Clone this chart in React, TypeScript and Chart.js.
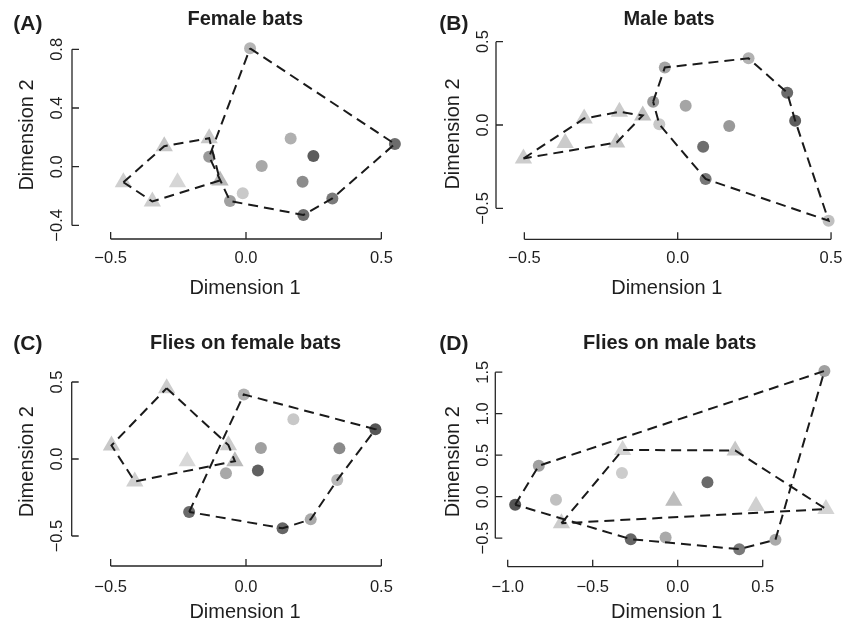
import React, { useEffect, useRef } from 'react';
import { Chart, registerables } from 'chart.js';

Chart.register(...registerables);

const FONT = '"Liberation Sans", Arial, Helvetica, sans-serif';

// ---------- Panel A: Female bats ----------
const femaleTriX = [-0.453, -0.346, -0.302, -0.253, -0.136, -0.096];
const femaleTriY = [-0.106, -0.237, 0.14, -0.106, 0.194, -0.094];
const femaleTriShade = ['#cfcfcf', '#cdcdcd', '#c6c6c6', '#d6d6d6', '#c8c8c8', '#b9b9b9'];
const femaleTriHull = [0, 2, 4, 5, 1, 0];
const femaleCircX = [0.015, 0.55, 0.165, 0.249, 0.058, -0.136, 0.209, 0.319, 0.212, -0.012, -0.059];
const femaleCircY = [0.807, 0.155, 0.193, 0.073, 0.005, 0.068, -0.102, -0.216, -0.329, -0.181, -0.234];
const femaleCircShade = ['#b5b5b5', '#6c6c6c', '#b0b0b0', '#5c5c5c', '#a8a8a8', '#999999', '#8c8c8c', '#7a7a7a', '#6e6e6e', '#c9c9c9', '#a0a0a0'];
const femaleCircHull = [0, 1, 7, 8, 10, 5, 0];
const femaleXTicks = [-0.5, 0, 0.5];
const femaleXTickLabels = ['\u22120.5', '0.0', '0.5'];
const femaleYTicks = [-0.4, 0, 0.4, 0.8];
const femaleYTickLabels = ['\u22120.4', '0.0', '0.4', '0.8'];

// ---------- Panel B: Male bats ----------
const maleTriX = [-0.503, -0.367, -0.305, -0.19, -0.199, -0.114];
const maleTriY = [-0.201, -0.108, 0.039, 0.079, -0.105, 0.057];
const maleTriShade = ['#cdcdcd', '#cbcbcb', '#cdcdcd', '#cbcbcb', '#c6c6c6', '#c0c0c0'];
const maleTriHull = [0, 2, 3, 5, 4, 0];
const maleCircX = [-0.042, 0.231, 0.357, 0.383, 0.492, 0.091, 0.083, 0.168, 0.026, -0.08, -0.06];
const maleCircY = [0.345, 0.4, 0.194, 0.026, -0.574, -0.324, -0.13, -0.006, 0.116, 0.14, 0.004];
const maleCircShade = ['#a5a5a5', '#b2b2b2', '#6a6a6a', '#5e5e5e', '#c0c0c0', '#777777', '#6e6e6e', '#999999', '#a5a5a5', '#9a9a9a', '#c8c8c8'];
const maleCircHull = [9, 0, 1, 2, 3, 4, 5, 10, 9];
const maleXTicks = [-0.5, 0, 0.5];
const maleXTickLabels = ['\u22120.5', '0.0', '0.5'];
const maleYTicks = [-0.5, 0, 0.5];
const maleYTickLabels = ['\u22120.5', '0.0', '0.5'];

// ---------- Panel C: Flies on female bats ----------
const fliesFemaleTriX = [-0.497, -0.411, -0.293, -0.217, -0.065, -0.041];
const fliesFemaleTriY = [0.088, -0.146, 0.46, -0.014, 0.09, -0.014];
const fliesFemaleTriShade = ['#c8c8c8', '#d0d0d0', '#cccccc', '#d8d8d8', '#cccccc', '#bbbbbb'];
const fliesFemaleTriHull = [2, 4, 5, 1, 0, 2];
const fliesFemaleCircX = [-0.008, 0.478, 0.337, 0.239, 0.135, -0.21, 0.175, 0.345, 0.055, 0.044, -0.074];
const fliesFemaleCircY = [0.419, 0.193, -0.137, -0.392, -0.45, -0.344, 0.258, 0.069, 0.071, -0.074, -0.093];
const fliesFemaleCircShade = ['#b0b0b0', '#555555', '#b8b8b8', '#aaaaaa', '#666666', '#6a6a6a', '#c8c8c8', '#8a8a8a', '#a0a0a0', '#606060', '#a8a8a8'];
const fliesFemaleCircHull = [5, 0, 1, 2, 3, 4, 5];
const fliesFemaleXTicks = [-0.5, 0, 0.5];
const fliesFemaleXTickLabels = ['\u22120.5', '0.0', '0.5'];
const fliesFemaleYTicks = [-0.5, 0, 0.5];
const fliesFemaleYTickLabels = ['\u22120.5', '0.0', '0.5'];

// ---------- Panel D: Flies on male bats ----------
const fliesMaleTriX = [-0.684, -0.324, 0.338, 0.872, 0.461, -0.023];
const fliesMaleTriY = [-0.32, 0.563, 0.557, -0.149, -0.111, -0.049];
const fliesMaleTriShade = ['#cccccc', '#d4d4d4', '#c8c8c8', '#d4d4d4', '#d0d0d0', '#bdbdbd'];
const fliesMaleTriHull = [0, 1, 2, 3, 0];
const fliesMaleCircX = [-0.956, -0.817, -0.716, -0.328, -0.276, -0.071, 0.175, 0.362, 0.575, 0.863];
const fliesMaleCircY = [-0.096, 0.373, -0.036, 0.285, -0.512, -0.492, 0.173, -0.632, -0.518, 1.514];
const fliesMaleCircShade = ['#555555', '#a0a0a0', '#c0c0c0', '#cccccc', '#666666', '#aaaaaa', '#6a6a6a', '#7a7a7a', '#aaaaaa', '#a0a0a0'];
const fliesMaleCircHull = [0, 1, 9, 8, 7, 4, 0];
const fliesMaleXTicks = [-1, -0.5, 0, 0.5];
const fliesMaleXTickLabels = ['\u22121.0', '\u22120.5', '0.0', '0.5'];
const fliesMaleYTicks = [-0.5, 0, 0.5, 1, 1.5];
const fliesMaleYTickLabels = ['\u22120.5', '0.0', '0.5', '1.0', '1.5'];

const PANELS = [
  {
    key: 'A', tag: '(A)', title: 'Female bats',
    triX: femaleTriX, triY: femaleTriY, triShade: femaleTriShade, triHull: femaleTriHull,
    circX: femaleCircX, circY: femaleCircY, circShade: femaleCircShade, circHull: femaleCircHull,
    xTicks: femaleXTicks, xTickLabels: femaleXTickLabels, yTicks: femaleYTicks, yTickLabels: femaleYTickLabels,
    box: { left: 0, top: 0, w: 426, h: 310 },
    cal: { xZero: 246, xUnit: 270.7, yZero: 166.7, yUnit: 146.7 },
    area: { left: 72, right: 410, top: 40, bottom: 239 },
    text: { tagY: 30, titleX: 245.3, titleY: 25, xlabX: 245, xlabY: 294, ylabY: 135, xTickY: 263.3 },
  },
  {
    key: 'B', tag: '(B)', title: 'Male bats',
    triX: maleTriX, triY: maleTriY, triShade: maleTriShade, triHull: maleTriHull,
    circX: maleCircX, circY: maleCircY, circShade: maleCircShade, circHull: maleCircHull,
    xTicks: maleXTicks, xTickLabels: maleXTickLabels, yTicks: maleYTicks, yTickLabels: maleYTickLabels,
    box: { left: 426, top: 0, w: 427, h: 310 },
    cal: { xZero: 251.7, xUnit: 306.7, yZero: 125, yUnit: 166.7 },
    area: { left: 70, right: 415, top: 35, bottom: 239.3 },
    text: { tagY: 30, titleX: 243, titleY: 25, xlabX: 240.8, xlabY: 294, ylabY: 134, xTickY: 263.3 },
  },
  {
    key: 'C', tag: '(C)', title: 'Flies on female bats',
    triX: fliesFemaleTriX, triY: fliesFemaleTriY, triShade: fliesFemaleTriShade, triHull: fliesFemaleTriHull,
    circX: fliesFemaleCircX, circY: fliesFemaleCircY, circShade: fliesFemaleCircShade, circHull: fliesFemaleCircHull,
    xTicks: fliesFemaleXTicks, xTickLabels: fliesFemaleXTickLabels, yTicks: fliesFemaleYTicks, yTickLabels: fliesFemaleYTickLabels,
    box: { left: 0, top: 310, w: 426, h: 313 },
    cal: { xZero: 246, xUnit: 270.7, yZero: 149, yUnit: 154 },
    area: { left: 71.7, right: 410, top: 60, bottom: 256 },
    text: { tagY: 40, titleX: 245.5, titleY: 39.3, xlabX: 245, xlabY: 308.3, ylabY: 151.7, xTickY: 281.7 },
  },
  {
    key: 'D', tag: '(D)', title: 'Flies on male bats',
    triX: fliesMaleTriX, triY: fliesMaleTriY, triShade: fliesMaleTriShade, triHull: fliesMaleTriHull,
    circX: fliesMaleCircX, circY: fliesMaleCircY, circShade: fliesMaleCircShade, circHull: fliesMaleCircHull,
    xTicks: fliesMaleXTicks, xTickLabels: fliesMaleXTickLabels, yTicks: fliesMaleYTicks, yTickLabels: fliesMaleYTickLabels,
    box: { left: 426, top: 310, w: 427, h: 313 },
    cal: { xZero: 251.7, xUnit: 170, yZero: 186.7, yUnit: 83 },
    area: { left: 69.3, right: 415, top: 50, bottom: 256.7 },
    text: { tagY: 40, titleX: 243.8, titleY: 39.3, xlabX: 240.7, xlabY: 308.3, ylabY: 151.7, xTickY: 281.7 },
  },
];

const TEXT_COLOR = '#1e1e1e';
const AXIS_COLOR = '#262626';
const HULL_COLOR = '#1a1a1a';
const TICK_LEN = 7;

function Panel({ p }: { p: any }) {
  const ref = useRef<HTMLCanvasElement | null>(null);
  useEffect(() => {
    const canvas = ref.current;
    if (!canvas) return;
    const { box, cal, area, text } = p;
    const xMin = (area.left - cal.xZero) / cal.xUnit;
    const xMax = (area.right - cal.xZero) / cal.xUnit;
    const yMin = (cal.yZero - area.bottom) / cal.yUnit;
    const yMax = (cal.yZero - area.top) / cal.yUnit;

    const triPts = p.triX.map((x: number, i: number) => ({ x, y: p.triY[i] }));
    const circPts = p.circX.map((x: number, i: number) => ({ x, y: p.circY[i] }));
    const triHullPts = p.triHull.map((i: number) => ({ x: p.triX[i], y: p.triY[i] }));
    const circHullPts = p.circHull.map((i: number) => ({ x: p.circX[i], y: p.circY[i] }));

    const hullStyle = {
      showLine: true,
      borderColor: HULL_COLOR,
      borderWidth: 2,
      borderDash: [10, 6],
      pointRadius: 0,
      pointHoverRadius: 0,
      fill: false,
      tension: 0,
      clip: false as any,
    };

    const rAxes = {
      id: 'rAxes',
      afterDraw(chart: any) {
        const { ctx, chartArea: ca, scales } = chart;
        const xs = scales.x;
        const ys = scales.y;
        ctx.save();
        ctx.setLineDash([]);
        ctx.strokeStyle = AXIS_COLOR;
        ctx.lineWidth = 1.3;
        // x axis
        const xb = ca.bottom;
        const xa = xs.getPixelForValue(p.xTicks[0]);
        const xz = xs.getPixelForValue(p.xTicks[p.xTicks.length - 1]);
        ctx.beginPath();
        ctx.moveTo(xa, xb);
        ctx.lineTo(xz, xb);
        p.xTicks.forEach((v: number) => {
          const px = xs.getPixelForValue(v);
          ctx.moveTo(px, xb);
          ctx.lineTo(px, xb - TICK_LEN);
        });
        // y axis
        const yl = ca.left;
        const ya = ys.getPixelForValue(p.yTicks[0]);
        const yz = ys.getPixelForValue(p.yTicks[p.yTicks.length - 1]);
        ctx.moveTo(yl, ya);
        ctx.lineTo(yl, yz);
        p.yTicks.forEach((v: number) => {
          const py = ys.getPixelForValue(v);
          ctx.moveTo(yl, py);
          ctx.lineTo(yl + TICK_LEN, py);
        });
        ctx.stroke();

        ctx.fillStyle = TEXT_COLOR;
        // x tick labels
        ctx.font = `16.5px ${FONT}`;
        ctx.textAlign = 'center';
        ctx.textBaseline = 'alphabetic';
        p.xTicks.forEach((v: number, i: number) => {
          ctx.fillText(p.xTickLabels[i], xs.getPixelForValue(v), text.xTickY);
        });
        // y tick labels (rotated)
        p.yTicks.forEach((v: number, i: number) => {
          ctx.save();
          ctx.translate(61.7, ys.getPixelForValue(v));
          ctx.rotate(-Math.PI / 2);
          ctx.fillText(p.yTickLabels[i], 0, 0);
          ctx.restore();
        });
        // axis titles
        ctx.font = `20px ${FONT}`;
        ctx.fillText('Dimension 1', text.xlabX, text.xlabY);
        ctx.save();
        ctx.translate(33, text.ylabY);
        ctx.rotate(-Math.PI / 2);
        ctx.fillText('Dimension 2', 0, 0);
        ctx.restore();
        // main title
        ctx.font = `bold 20px ${FONT}`;
        ctx.fillText(p.title, text.titleX, text.titleY);
        // panel tag
        ctx.font = `bold 21px ${FONT}`;
        ctx.textAlign = 'left';
        ctx.fillText(p.tag, 13.3, text.tagY);
        ctx.restore();
      },
    };

    const chart = new Chart(canvas, {
      type: 'scatter',
      data: {
        datasets: [
          { label: 'tri hull', data: triHullPts, ...hullStyle },
          { label: 'circ hull', data: circHullPts, ...hullStyle },
          {
            label: 'triangles',
            data: triPts,
            pointStyle: 'triangle',
            pointRadius: 10,
            pointHoverRadius: 10,
            pointBorderWidth: 0,
            pointBackgroundColor: p.triShade,
            backgroundColor: p.triShade,
            borderWidth: 0,
            clip: false as any,
          },
          {
            label: 'circles',
            data: circPts,
            pointStyle: 'circle',
            pointRadius: 6,
            pointHoverRadius: 6,
            pointBorderWidth: 0,
            pointBackgroundColor: p.circShade,
            backgroundColor: p.circShade,
            borderWidth: 0,
            clip: false as any,
          },
        ],
      },
      options: {
        animation: false,
        responsive: false,
        events: [],
        layout: {
          padding: {
            left: area.left,
            top: area.top,
            right: box.w - area.right,
            bottom: box.h - area.bottom,
          },
        },
        plugins: {
          legend: { display: false },
          tooltip: { enabled: false },
          title: { display: false },
        },
        scales: {
          x: { type: 'linear', display: false, min: xMin, max: xMax },
          y: { type: 'linear', display: false, min: yMin, max: yMax },
        },
      },
      plugins: [rAxes],
    } as any);
    return () => chart.destroy();
  }, [p]);

  return (
    <canvas
      ref={ref}
      width={p.box.w}
      height={p.box.h}
      style={{ position: 'absolute', left: p.box.left, top: p.box.top, width: p.box.w, height: p.box.h }}
    />
  );
}

export default function App() {
  return (
    <div style={{ position: 'fixed', left: 0, top: 0, width: 853, height: 623, background: '#ffffff', overflow: 'hidden' }}>
      {PANELS.map((p) => (
        <Panel key={p.key} p={p} />
      ))}
    </div>
  );
}
